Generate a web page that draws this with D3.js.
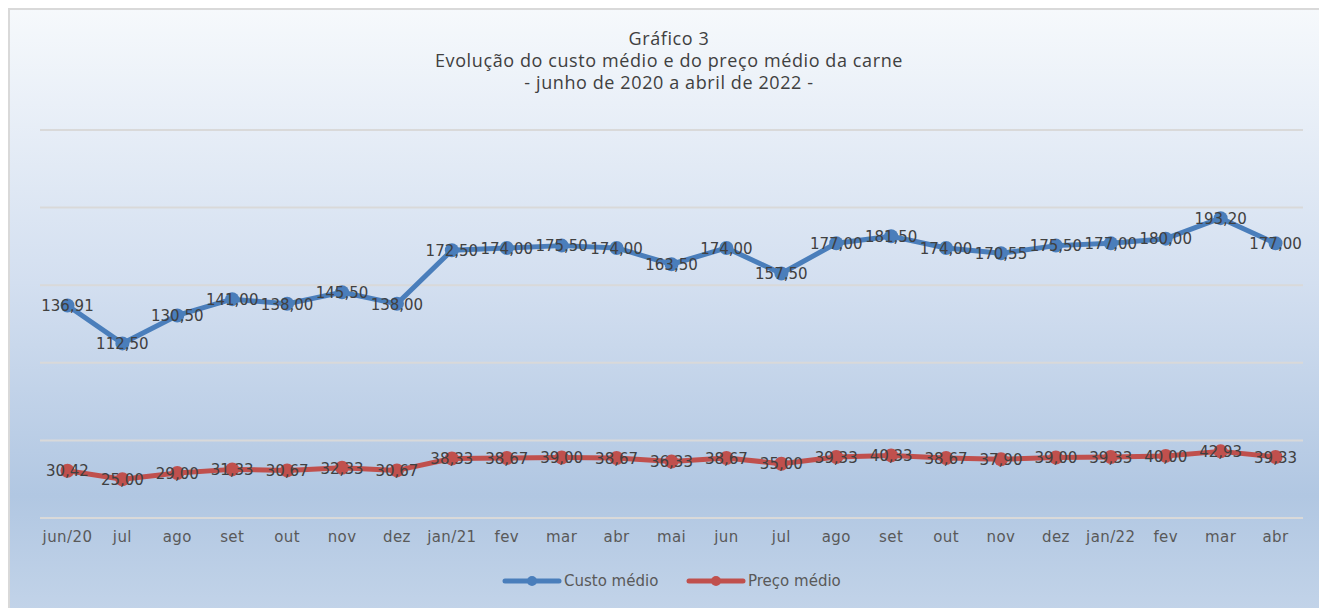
<!DOCTYPE html>
<html>
<head>
<meta charset="utf-8">
<script src="https://cdn.jsdelivr.net/npm/d3@7"></script>
<style>
  body { margin: 0; background: #fff; }
  svg { display: block; }
</style>
</head>
<body>
<script>
const width = 1319;
const height = 608;

const months = ["jun/20", "jul", "ago", "set", "out", "nov", "dez", "jan/21", "fev", "mar", "abr", "mai",
    "jun", "jul", "ago", "set", "out", "nov", "dez", "jan/22", "fev", "mar", "abr"];
const custoMedio = [136.91, 112.50, 130.50, 141.00, 138.00, 145.50, 138.00, 172.50, 174.00, 175.50, 174.00, 163.50,
    174.00, 157.50, 177.00, 181.50, 174.00, 170.55, 175.50, 177.00, 180.00, 193.20, 177.00];
const precoMedio = [30.42, 25.00, 29.00, 31.33, 30.67, 32.33, 30.67, 38.33, 38.67, 39.00, 38.67, 36.33,
    38.67, 35.00, 39.33, 40.33, 38.67, 37.90, 39.00, 39.33, 40.00, 42.93, 39.33];
const yTicks = [0, 50, 100, 150, 200, 250];
const titleLines = ["Gráfico 3", "Evolução do custo médio e do preço médio da carne", "- junho de 2020 a abril de 2022 -"];

const series = [
    {name: "Custo médio", values: custoMedio, color: "#4a7ebb"},
    {name: "Preço médio", values: precoMedio, color: "#c0504d"}
];

const ptBR = d3.formatLocale({decimal: ",", thousands: ".", grouping: [3], currency: ["R$", ""]});
const fmt = ptBR.format(".2f");

const plot = {left: 40, right: 1303, top: 130, bottom: 518};

let svg = d3.select("body").append("svg")
    .attr("width", width)
    .attr("height", height);

let defs = svg.append("defs");
let grad = defs.append("linearGradient")
    .attr("id", "bg")
    .attr("x1", 0).attr("y1", 0).attr("x2", 0).attr("y2", 1);
grad.append("stop").attr("offset", "0%").attr("stop-color", "#f6f9fc");
grad.append("stop").attr("offset", "45%").attr("stop-color", "#d3dff0");
grad.append("stop").attr("offset", "80%").attr("stop-color", "#b1c7e2");
grad.append("stop").attr("offset", "100%").attr("stop-color", "#c3d4e9");

// chart area
svg.append("rect")
    .attr("x", 9).attr("y", 9)
    .attr("width", width - 8).attr("height", height)
    .attr("fill", "url(#bg)")
    .attr("stroke", "#d9d9d9")
    .attr("stroke-width", 2);

// title
svg.append("text")
    .attr("text-anchor", "middle")
    .attr("font-family", "'Open Sans', sans-serif")
    .attr("font-size", 18)
    .attr("letter-spacing", 0.6)
    .attr("fill", "#404040")
    .selectAll("tspan")
    .data(titleLines)
    .enter().append("tspan")
    .attr("x", 669)
    .attr("y", function(d, i) { return 45 + i * 22; })
    .text(function(d) { return d; });

let x = d3.scaleBand()
    .domain(d3.range(months.length))
    .range([plot.left, plot.right]);

let y = d3.scaleLinear()
    .domain([0, 250])
    .range([plot.bottom, plot.top]);

// gridlines
svg.append("g")
    .selectAll("line")
    .data(yTicks)
    .enter().append("line")
    .attr("x1", plot.left).attr("x2", plot.right)
    .attr("y1", function(d) { return y(d); })
    .attr("y2", function(d) { return y(d); })
    .attr("stroke", "#d9d9d9")
    .attr("stroke-width", 2);

// x axis labels
let xAxis = d3.axisBottom(x)
    .tickSize(0)
    .tickPadding(13)
    .tickFormat(function(i) { return months[i]; });

let gx = svg.append("g")
    .attr("transform", "translate(0," + plot.bottom + ")")
    .call(xAxis);
gx.select(".domain").remove();
gx.selectAll("text")
    .attr("font-family", "'DejaVu Sans', sans-serif")
    .attr("font-size", 15)
    .attr("letter-spacing", 0.4)
    .attr("fill", "#595959");

let line = d3.line()
    .x(function(d, i) { return x(i) + x.bandwidth() / 2; })
    .y(function(d) { return y(d); });

for (let s of series) {
    let g = svg.append("g");
    g.append("path")
        .datum(s.values)
        .attr("d", line)
        .attr("fill", "none")
        .attr("stroke", s.color)
        .attr("stroke-width", 5)
        .attr("stroke-linejoin", "round")
        .attr("stroke-linecap", "round");
    g.selectAll("circle")
        .data(s.values)
        .enter().append("circle")
        .attr("cx", function(d, i) { return x(i) + x.bandwidth() / 2; })
        .attr("cy", function(d) { return y(d); })
        .attr("r", 7)
        .attr("fill", s.color);
    g.selectAll("text")
        .data(s.values)
        .enter().append("text")
        .attr("x", function(d, i) { return x(i) + x.bandwidth() / 2; })
        .attr("y", function(d) { return y(d); })
        .attr("dy", "0.38em")
        .attr("text-anchor", "middle")
        .attr("font-family", "'DejaVu Sans', sans-serif")
        .attr("font-size", 15)
        .attr("fill", "#404040")
        .text(function(d) { return fmt(d); });
}

// legend
let legendX = [505, 689];
let legend = svg.append("g")
    .selectAll("g")
    .data(series)
    .enter().append("g")
    .attr("transform", function(d, i) { return "translate(" + legendX[i] + ",581)"; });
legend.append("line")
    .attr("x1", 0).attr("x2", 54)
    .attr("stroke", function(d) { return d.color; })
    .attr("stroke-width", 5)
    .attr("stroke-linecap", "round");
legend.append("circle")
    .attr("cx", 27).attr("r", 5)
    .attr("fill", function(d) { return d.color; });
legend.append("text")
    .attr("x", 59)
    .attr("dy", "0.35em")
    .attr("font-family", "'DejaVu Sans', sans-serif")
    .attr("font-size", 15)
    .attr("fill", "#595959")
    .text(function(d) { return d.name; });
</script>
</body>
</html>
